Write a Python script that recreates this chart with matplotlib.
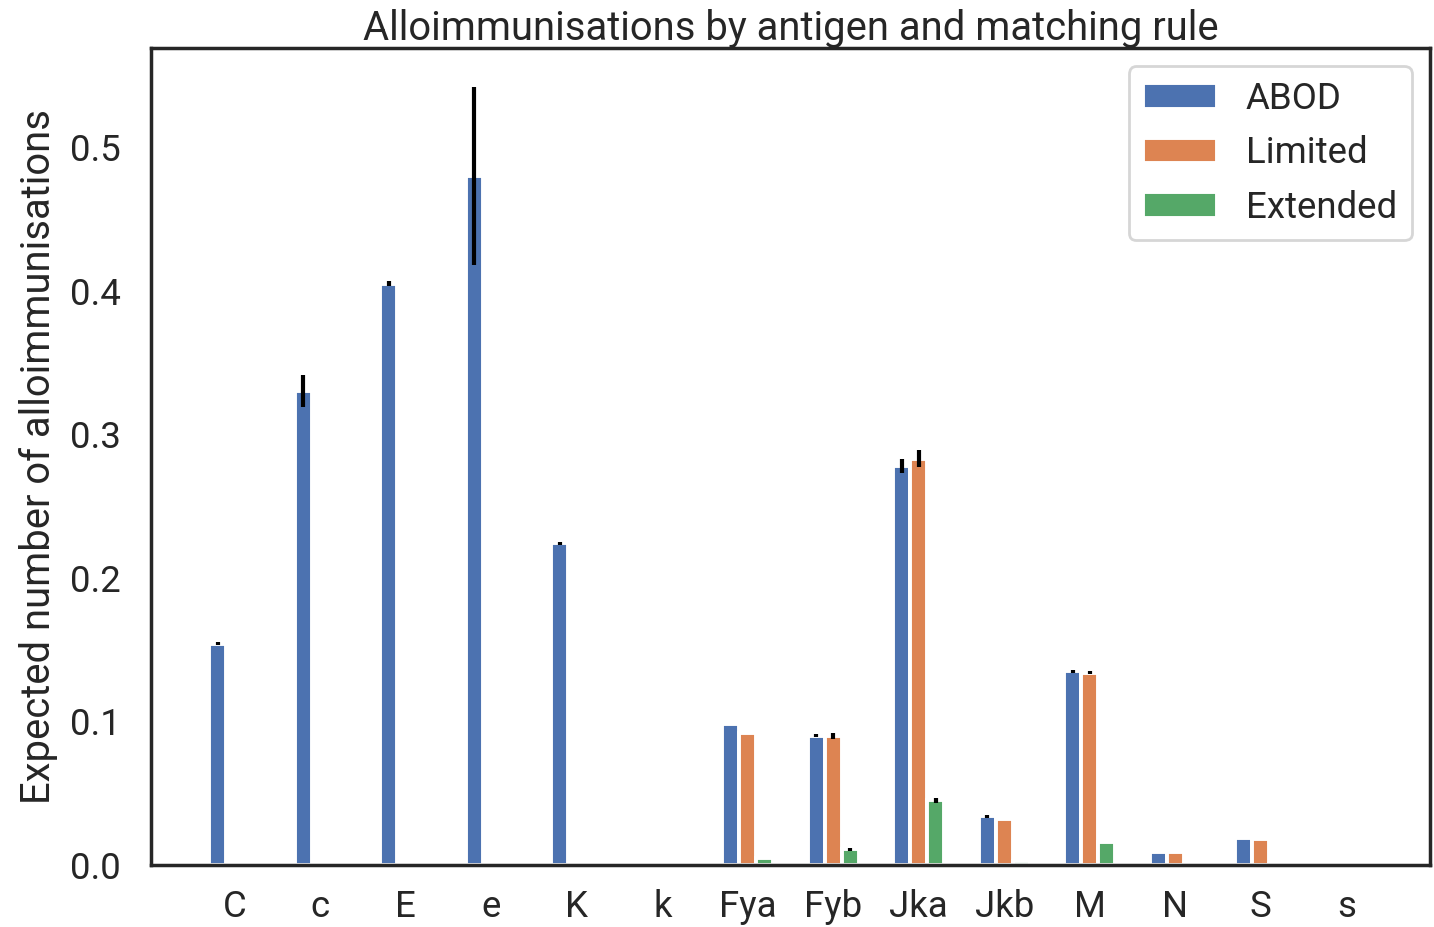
import numpy as np
import matplotlib
matplotlib.use("Agg")
import matplotlib.pyplot as plt
import seaborn as sns

sns.set_style("white")
plt.rcParams['font.family'] = ['Roboto', 'DejaVu Sans']

antigens = ["C", "c", "E", "e", "K", "k", "Fya", "Fyb", "Jka", "Jkb", "M", "N", "S", "s"]
rules = ["ABOD", "Limited", "Extended"]

# mean expected alloimmunisations per antigen
abod     = [0.154, 0.330, 0.405, 0.480, 0.224, 0.0, 0.098, 0.090, 0.278, 0.034, 0.135, 0.009, 0.019, 0.0]
limited  = [0.0,   0.0,   0.0,   0.0,   0.0,   0.0, 0.092, 0.090, 0.283, 0.032, 0.134, 0.009, 0.018, 0.0]
extended = [0.0,   0.0,   0.0,   0.0,   0.0,   0.0, 0.005, 0.011, 0.045, 0.003, 0.016, 0.001, 0.001, 0.0]

# half-width of the error bars
abod_err     = [0.001, 0.011, 0.002, 0.062, 0.001, 0.0, 0.0, 0.001, 0.005, 0.001, 0.001, 0.0, 0.0, 0.0]
limited_err  = [0.0,   0.0,   0.0,   0.0,   0.0,   0.0, 0.0, 0.002, 0.006, 0.0,   0.001, 0.0, 0.0, 0.0]
extended_err = [0.0,   0.0,   0.0,   0.0,   0.0,   0.0, 0.0, 0.001, 0.002, 0.0,   0.0,   0.0, 0.0, 0.0]

colors = sns.color_palette("deep")[:3]
label_fs = 14.4
tick_fs = 13.2

fig = plt.figure(figsize=(7.17, 4.635), dpi=200)
ax = fig.add_axes([0.1053, 0.0669, 0.8919, 0.8813])

x = np.arange(len(antigens))
width = 0.2
series = [(abod, abod_err), (limited, limited_err), (extended, extended_err)]
for i, (vals, err) in enumerate(series):
    ax.bar(x + (i - 1) * width, vals, width, yerr=err, color=colors[i],
           edgecolor="white", linewidth=1.4, label=rules[i],
           error_kw=dict(ecolor="black", elinewidth=1.5, capsize=0))

ax.set_xticks(x)
ax.set_xticklabels(antigens)
ax.tick_params(axis="y", length=0, pad=11, labelsize=tick_fs, colors=".15")
ax.tick_params(axis="x", length=0, pad=8.5, labelsize=tick_fs, colors=".15")
ax.set_ylabel("Expected number of alloimmunisations", fontsize=label_fs, color=".15")
ax.set_title("Alloimmunisations by antigen and matching rule", fontsize=label_fs, pad=3, color=".15")
for sp in ax.spines.values():
    sp.set_linewidth(1.25)
    sp.set_color(".15")

ax.legend(loc="upper right", fontsize=tick_fs, handlelength=2.0)

fig.savefig("out.png", dpi=200)
